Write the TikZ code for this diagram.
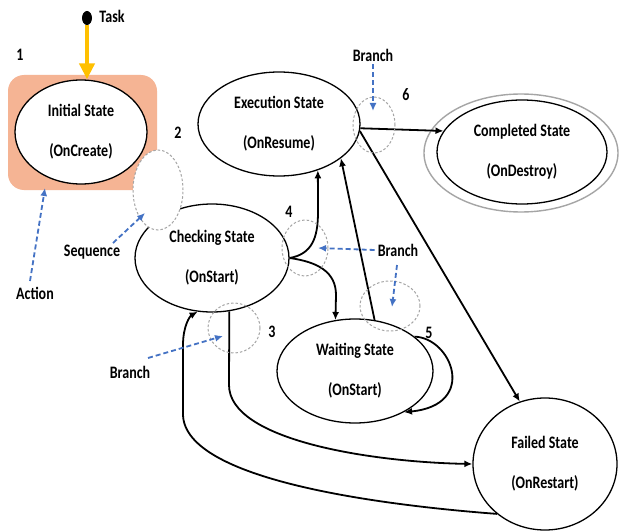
\documentclass[tikz,border=0pt]{standalone}
\usepackage{fontspec}
\setmainfont{Carlito}
\usepackage{graphicx}
\usetikzlibrary{shapes.geometric,arrows.meta}
\definecolor{peach}{RGB}{245,180,148}
\definecolor{gold}{RGB}{255,192,0}
\definecolor{linkblue}{RGB}{68,114,196}
\definecolor{ringgray}{RGB}{165,165,165}
\newcommand{\tallbox}[1]{\scalebox{1}[1.25]{#1}}

\begin{document}
\begin{tikzpicture}[x=1pt,y=-1pt,
  state/.style={ellipse,draw=black,line width=1.3pt,fill=white,inner sep=0pt,align=center,
    font=\bfseries\fontsize{14}{40}\selectfont},
  ring/.style={ellipse,draw=ringgray,line width=1pt,dash pattern=on 2.5pt off 2pt,inner sep=0pt},
  lbl/.style={font=\bfseries\fontsize{14}{16}\selectfont,inner sep=0pt},
  flow/.style={line width=1.8pt,-{Latex[length=8pt,width=7pt]}},
  hint/.style={linkblue,line width=1.8pt,dash pattern=on 5pt off 3pt,-{Latex[length=8pt,width=7pt]}},
]
% canvas
\fill[white] (0,0) rectangle (621,532);
\useasboundingbox (0,0) rectangle (621,532);

% action highlight behind the initial state
\node[fill=peach,rounded corners=16pt,minimum width=149pt,minimum height=115pt,inner sep=0pt] (actbox) at (82.5,132.5) {};

% states
\node[state,minimum width=132pt,minimum height=104pt] (init) at (81,132)
  {\tallbox{Initial State}\\\tallbox{(OnCreate)}};
\node[state,minimum width=162pt,minimum height=104pt] (exe) at (279,124)
  {\tallbox{Execution State}\\\tallbox{(OnResume)}};
\node[state,minimum width=154pt,minimum height=108pt] (chk) at (212,258)
  {\tallbox{Checking State}\\\tallbox{(OnStart)}};
\node[state,minimum width=156pt,minimum height=104pt] (wait) at (355,371)
  {\tallbox{Waiting State}\\\tallbox{(OnStart)}};
\node[state,minimum width=144pt,minimum height=132pt] (fail) at (545,464)
  {\tallbox{Failed State}\\\tallbox{(OnRestart)}};
\node[ellipse,draw=ringgray,line width=1.4pt,minimum width=194pt,minimum height=118pt,inner sep=0pt] (cmpouter) at (521,153) {};
\node[state,minimum width=170pt,minimum height=104pt] (cmp) at (522,152)
  {\tallbox{Completed State}\\\tallbox{(OnDestroy)}};

% start marker
\node[ellipse,fill=black,minimum width=10pt,minimum height=14pt,inner sep=0pt] (dot) at (87,18) {};
\node[lbl] (task) at (112,16) {\tallbox{Task}};
\draw[gold,line width=4.5pt,-{Triangle[length=16pt,width=15pt]}] (dot.south) -- (dot.south |- init.north);

% transitions
\draw[flow] (chk.east) .. controls (312,254) and (318,238) .. (318,212) -- (exe.-50);
\draw[flow] (chk.east) .. controls (318,262) and (336,272) .. (336,295) -- (wait.111);
\draw[flow] (wait.69) -- (exe.-29);
\draw[flow] (exe.-3) -- (cmp.165);
\draw[flow] (exe.-5) -- (fail.112);
\draw[flow] (wait.30) .. controls (452,338) and (478,405) .. (wait.-40);
\draw[flow] (chk.-72) -- (229,385) .. controls (229,440) and (370,462) .. (fail.west);
\draw[flow] (fail.-134) .. controls (380,505) and (185,480) .. (183,415) -- (183,345)
  .. controls (183,326) and (190,316) .. (chk.-105);

% branch / sequence rings
\node[ring,minimum width=46pt,minimum height=56pt] (ring4) at (305,248) {};
\node[ring,minimum width=42pt,minimum height=56pt] (ring6) at (374,125) {};
\node[ring,minimum width=60pt,minimum height=50pt] (ring5) at (390,306) {};
\node[ring,minimum width=52pt,minimum height=50pt] (ring3) at (234,328) {};
\node[ring,fill=white,minimum width=50pt,minimum height=80pt] (seq) at (158,190) {};

% step numbers
\node[lbl] (n1) at (20,55) {\tallbox{1}};
\node[lbl] (n2) at (178,133) {\tallbox{2}};
\node[lbl] (n3) at (272,332) {\tallbox{3}};
\node[lbl] (n4) at (289,212) {\tallbox{4}};
\node[lbl] (n5) at (429,333) {\tallbox{5}};
\node[lbl] (n6) at (406,95) {\tallbox{6}};

% annotations
\node[lbl] (btop) at (373,55) {\tallbox{Branch}};
\node[lbl] (bmid) at (398,250) {\tallbox{Branch}};
\node[lbl] (bbot) at (130,372) {\tallbox{Branch}};
\node[lbl] (seqlbl) at (92,252) {\tallbox{Sequence}};
\node[lbl] (act) at (35,293) {\tallbox{Action}};

\coordinate (t6) at (373,111);
\coordinate (t4) at (318,248);
\coordinate (t5s) at (397,265);
\coordinate (t5) at (392,307);
\coordinate (t3s) at (148,358);
\coordinate (t3) at (223,336);
\coordinate (tseqs) at (113,243);
\coordinate (tseq) at (145,213);
\coordinate (tacts) at (30,281);
\coordinate (tact) at (45,188);

\draw[hint] (btop.south) ++(0,3) -- (t6);
\draw[hint] (bmid.west) ++(-3,0) -- (t4);
\draw[hint] (t5s) -- (t5);
\draw[hint] (t3s) -- (t3);
\draw[hint] (tseqs) -- (tseq);
\draw[hint] (tacts) -- (tact);
\end{tikzpicture}
\end{document}
